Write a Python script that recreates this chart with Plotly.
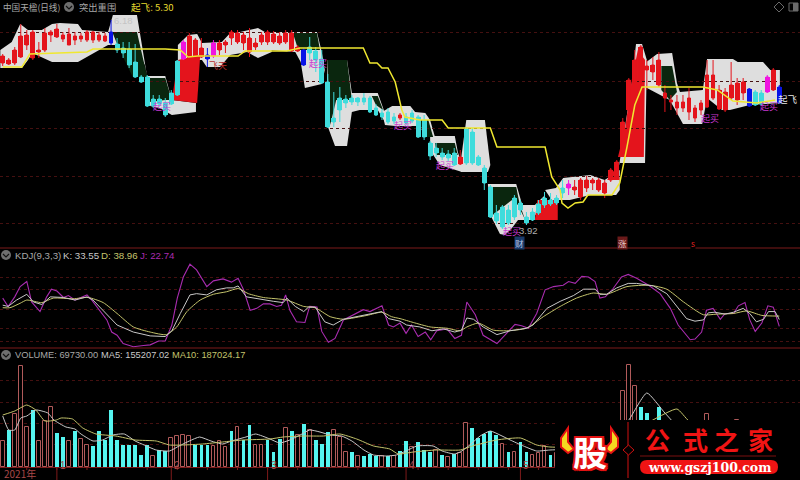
import plotly.graph_objects as go

# ---- price panel (bars numbered 0..129) ----
OPEN = [5.67,5.66,5.67,5.73,5.85,5.72,5.78,5.80,5.95,5.93,5.91,5.85,5.90,5.91,5.90,5.90,5.90,5.89,5.87,5.86,
        5.82,5.81,5.68,5.53,5.53,5.31,5.31,5.27,5.37,5.69,5.71,5.72,5.73,5.73,5.71,5.74,5.80,5.85,5.92,5.88,
        5.87,5.78,5.83,5.88,5.88,5.88,5.87,5.88,5.79,5.79,5.65,5.83,5.79,5.71,5.48,5.12,5.32,5.31,5.32,5.32,
        5.32,5.32,5.22,5.17,5.18,5.13,5.12,5.13,5.17,5.13,5.10,4.87,4.82,4.77,4.76,4.77,4.66,5.01,4.98,4.73,
        4.62,4.43,4.17,4.23,4.20,4.32,4.27,4.13,4.18,4.26,4.32,4.30,4.32,4.42,4.42,4.40,4.33,4.42,4.47,4.40,
        4.37,4.50,4.53,4.77,5.20,5.47,5.50,5.60,5.58,5.45,5.32,5.28,5.22,5.22,5.18,5.12,5.20,5.23,5.32,5.21,
        5.20,5.32,5.30,5.37,5.24,5.38,5.37,5.38,5.40,5.27]
HIGH = [5.76,5.72,5.83,6.06,6.00,6.00,5.88,6.02,6.00,6.06,5.98,6.02,5.98,5.97,6.00,5.99,5.98,5.97,6.10,5.92,
        5.88,5.88,5.86,5.55,5.55,5.35,5.35,5.32,5.40,5.70,5.90,5.97,5.92,5.92,5.82,5.90,5.90,5.90,6.00,6.00,
        5.98,6.02,5.92,5.98,6.00,5.99,5.98,6.00,6.00,5.85,5.82,5.93,5.83,5.80,5.56,5.38,5.43,5.35,5.35,5.33,
        5.37,5.34,5.26,5.21,5.22,5.17,5.17,5.17,5.20,5.15,5.15,4.89,4.87,4.82,4.80,4.82,4.80,5.03,5.02,4.75,
        4.65,4.45,4.25,4.25,4.25,4.35,4.30,4.18,4.22,4.30,4.38,4.37,4.35,4.50,4.50,4.50,4.52,4.54,4.52,4.52,
        4.50,4.62,4.70,5.12,5.52,5.80,5.85,5.70,5.73,5.78,5.45,5.35,5.35,5.35,5.42,5.25,5.30,5.70,5.70,5.45,
        5.42,5.68,5.52,5.52,5.42,5.40,5.40,5.55,5.62,5.45]
LOW = [5.64,5.65,5.65,5.72,5.80,5.70,5.72,5.78,5.88,5.92,5.88,5.85,5.85,5.88,5.88,5.87,5.88,5.88,5.85,5.77,
       5.72,5.62,5.52,5.47,5.23,5.22,5.23,5.13,5.25,5.34,5.70,5.70,5.70,5.72,5.63,5.72,5.75,5.77,5.85,5.86,
       5.80,5.73,5.80,5.85,5.85,5.86,5.85,5.86,5.78,5.78,5.64,5.70,5.58,5.46,5.02,5.03,5.08,5.22,5.25,5.24,
       5.25,5.17,5.14,5.10,5.06,5.06,5.10,5.05,5.07,4.92,4.90,4.70,4.73,4.70,4.69,4.64,4.65,4.65,4.65,4.64,
       4.40,4.12,4.06,4.01,4.05,4.10,4.15,4.05,4.09,4.15,4.22,4.24,4.25,4.32,4.35,4.35,4.30,4.38,4.40,4.38,
       4.32,4.48,4.52,4.75,5.18,5.45,5.40,5.40,5.50,5.43,5.18,5.20,5.15,5.18,5.10,5.08,5.15,5.22,5.30,5.20,
       5.18,5.30,5.25,5.30,5.23,5.24,5.24,5.37,5.39,5.26]
CLOSE = [5.74,5.70,5.80,5.94,5.95,5.98,5.80,5.97,5.98,6.01,5.95,5.96,5.94,5.94,5.98,5.98,5.95,5.94,5.98,5.80,
         5.77,5.65,5.53,5.48,5.24,5.24,5.26,5.15,5.26,5.35,5.88,5.94,5.90,5.82,5.75,5.87,5.87,5.88,5.98,5.97,
         5.95,5.92,5.87,5.95,5.98,5.96,5.94,5.97,5.97,5.83,5.80,5.77,5.70,5.47,5.03,5.08,5.20,5.27,5.28,5.28,
         5.28,5.18,5.15,5.13,5.08,5.09,5.15,5.07,5.09,4.93,4.93,4.74,4.77,4.73,4.72,4.65,4.73,4.67,4.67,4.65,
         4.47,4.13,4.09,4.03,4.07,4.13,4.20,4.07,4.10,4.17,4.25,4.26,4.27,4.37,4.46,4.43,4.50,4.50,4.50,4.50,
         4.47,4.60,4.68,5.08,5.50,5.70,5.83,5.64,5.65,5.70,5.37,5.30,5.28,5.28,5.32,5.22,5.27,5.55,5.55,5.40,
         5.38,5.45,5.47,5.48,5.41,5.25,5.26,5.53,5.60,5.43]
BLUE_BARS = [18, 34, 50, 124, 129]
MAGENTA_BARS = [30, 35, 94, 127]

YELLOW_X = [0,3.2,4.5,14,15,27,29.5,30.8,32.4,39.1,40.3,47.2,49.4,59.9,61,62.2,63,64,65.2,66.3,66.8,69.3,73,74,81,
            82.1,90.1,91.2,92.6,92.9,93.9,95.1,96.4,97.2,101.2,102.5,103.7,105,106.2,116.3,118.7,121.3,125.3,128.3]
YELLOW_Y = [5.63,5.63,5.76,5.78,5.81,5.81,5.80,5.73,5.74,5.74,5.79,5.79,5.82,5.82,5.67,5.67,5.62,5.62,5.48,5.20,5.13,5.10,5.10,5.02,5.02,
            4.83,4.83,4.53,4.40,4.27,4.22,4.27,4.28,4.35,4.35,4.47,4.83,5.25,5.43,5.43,5.40,5.29,5.27,5.30]

GRAY_X = [-0.4,1.5,2.9,4.2,6.5,8.2,9.5,12.5,13.2,17.5,18.3,22.3,24,23.6,22,17.5,12.5,8.2,4.9,4.2,3.2,-0.4,None,
          23.8,27,28.1,32.1,32.1,28.1,26.1,24.5,None,
          29.1,30.8,32.3,33.1,36.4,37.8,39.4,42.4,44.4,44.7,42.4,40.6,37.8,36.1,33.9,33.1,29.1,None,
          44.1,44.7,52.2,53,53.5,53,50.2,49.5,48.6,44.4,None,
          53.9,57.2,58,62.3,63.3,63.7,62.3,59.3,58,57.2,55.2,53.9,None,
          63,64.7,67.7,68.5,70.2,71,71.8,70.2,69.3,65.2,63.5,None,
          71,75.1,75.6,76.3,79.3,76.3,72.6,71,None,
          76,77,80.1,81,80.6,76.1,None,
          80.6,85.3,86.3,88.4,90.1,89.2,87.8,85.6,84.6,83.4,82.6,81,None,
          90.1,91.9,93.1,97.6,100,102.5,102.5,101.9,97.6,94.2,92.2,91.2,None,
          102.4,104.5,105.2,106.2,107,106.7,102.2,None,
          106.7,108.7,111.2,112,112.5,116.3,117,121.3,122.1,126.3,127.5,129.1,129.1,124.1,120.8,119.5,117,116.2,113,110.8,106.7]
GRAY_Y = [5.80,5.88,6.06,6.00,6.00,6.06,6.07,6.06,6.00,5.98,6.15,6.15,5.53,5.65,5.85,5.85,5.68,5.68,5.77,5.70,5.62,5.62,None,
          5.54,5.54,5.30,5.27,5.18,5.15,5.22,5.24,None,
          5.85,5.95,5.96,5.87,5.88,5.97,5.98,6.02,5.95,5.78,5.72,5.78,5.75,5.63,5.63,5.70,5.70,None,
          5.96,5.98,5.98,5.78,5.60,5.46,5.42,5.68,5.78,5.80,None,
          5.70,5.70,5.37,5.37,5.20,5.06,5.20,5.20,5.18,4.84,4.84,5.05,None,
          5.18,5.24,5.24,5.18,5.17,5.10,4.93,4.93,5.04,5.04,5.05,None,
          4.94,4.94,4.78,4.65,4.58,4.58,4.65,4.80,None,
          4.65,5.10,5.10,4.65,4.58,4.58,None,
          4.46,4.46,4.25,4.25,4.35,4.20,4.10,4.10,4.02,3.95,3.96,4.15,None,
          4.40,4.42,4.52,4.55,4.50,4.60,4.40,4.35,4.35,4.30,4.30,4.30,None,
          4.65,5.47,5.86,5.86,5.70,4.67,4.67,None,
          5.67,5.76,5.77,5.47,5.38,5.40,5.71,5.71,5.68,5.68,5.60,5.60,5.27,5.25,5.20,5.20,5.32,5.06,5.06,5.30,5.43]

DARK_X = [18.2,22.3,24,21.6,19.2,None, 24.1,27,28.1,27,24.5,None, 48.2,52.2,52.7,49.1,None,
          53.9,57.2,58,55.4,54.4,None, 61.3,62.3,63.2,62,None, 69,70.7,71.5,70.2,None,
          71.8,75.1,75.6,72.1,None, 81,85.3,85.9,86.8,85.6,84.6,81.4,None, 109.4,111.2,112,110.8,109.4]
DARK_Y = [5.98,5.98,5.53,5.53,5.83,None, 5.52,5.52,5.30,5.30,5.28,None, 5.97,5.97,5.80,5.80,None,
          5.70,5.70,5.30,5.30,5.05,None, 5.34,5.34,5.20,5.25,None, 5.10,5.10,4.93,4.93,None,
          4.87,4.87,4.75,4.75,None, 4.43,4.43,4.25,4.10,4.25,4.30,4.15,None, 5.64,5.64,5.38,5.30,5.40]

RED_X = [28.1,29.1,32.8,32.3,None, 88.8,92.2,92.2,88.4,None, 100.4,102.2,102.5,None,
         102.2,103.4,104.5,105.5,106.7,106.5]
RED_Y = [5.30,5.70,5.75,5.27,None, 4.30,4.30,4.10,4.10,None, 4.50,4.65,4.50,None,
         4.73,5.02,5.50,5.80,5.70,4.73]

# ---- KDJ panel ----
J_X = [0,0.9,2,2.9,4,4.8,6.2,7.3,8.1,9,10.1,10.9,12,13.1,14,14.8,16.2,17.3,18.1,19,20,21.7,23.4,24.5,25.9,27,28.1,29,30,31.1,
       32.2,33.9,35,36.6,38,39.1,40,41.1,42.2,43.3,44.4,45.5,46.3,47,47.7,48.8,50.2,51,52.2,53,54.1,55.2,56.6,58.2,59.9,61,63,64.1,64.9,66,
       67,67.9,69,70.2,71.1,72.1,73.8,75.1,76.2,77.1,78.5,79.8,82.1,83.7,85.1,86.2,87.3,88.7,90.1,91.5,93.1,94,95.1,96.2,97.3,98.4,99.2,100.1,
       101.4,102.8,103.9,105.3,107.3,109.2,110.9,112.2,114.2,115,116.1,116.9,118,119.2,120,121.4,122.2,123.3,124.1,125,126.1,127.1,128,129]
J_V = [67,54,69,85,93,61,46,69,81,78,68,71,64,68,72,64,46,33,14,9,-4,-9,-7,-6,0,0,25,67,100,120,
       111,85,94,97,92,98,80,48,51,58,58,54,56,72,48,30,29,54,53,15,-2,4,33,41,49,46,55,25,22,28,
       12,25,7,14,2,16,19,4,9,61,41,9,-4,12,26,24,20,43,80,85,87,93,90,101,100,93,67,69,
       82,100,104,98,87,74,51,25,2,3,14,48,51,34,43,43,55,60,33,15,28,55,53,22.74]
K_X = [0,0.9,2.3,4,5.1,6.5,7.9,10.1,12,14,15,17.3,19,21.7,24.5,27,28.1,29.5,31.1,32.2,33.9,35.5,37.2,38.3,39.1,40.5,42.2,45,46.6,47.2,
       48.6,50,50.8,51.9,53.5,54.9,56.6,59.9,63,64.1,66,67.1,69.3,71.3,73.2,75.1,76.2,77.1,78.2,79.8,82.1,84.3,87,88.1,90.4,92.6,94.8,96.5,98.4,99.2,
       100.3,102,103.9,105.3,108.1,110.3,112,113.6,115,116.4,117.2,118.3,120,121.4,123,124.1,125.2,126.4,127.2,128.3,129]
K_V = [56,54,64,73,61,57,69,68,64,69,64,41,25,14,8,7,16,43,72,74,72,80,83,83,86,69,66,62,60,67,
       54,46,53,53,30,25,34,40,46,35,31,25,22,16,19,14,17,36,34,22,10,16,20,25,51,62,71,81,81,73,
       73,83,90,90,86,74,54,35,31,33,44,45,42,45,51,43,30,34,46,46,33.55]
D_X = [0,1.2,2.9,4,6.5,8.4,11.7,14.2,16.7,19,21.7,24.5,27.2,28.9,30.6,32.8,35,37.2,39.1,40.8,43.3,47.2,50,51.9,54.4,56.6,60.5,63,64.6,66,
       68.2,71,73.8,76,77.1,79,81.5,83.7,87,89.8,92.6,95.3,98.1,100.3,103.7,107.5,110.3,113.1,116.4,118.6,121.4,123.6,126.1,129]
D_V = [52,52,59,64,60,67,66,68,60,43,22,14,10,22,46,64,73,77,82,74,68,64,54,52,38,34,40,45,38,35,
       29,22,20,16,22,28,17,16,20,38,54,67,75,73,85,87,81,61,41,42,43,47,40,38.96]

# ---- volume panel, in units of 10 000 ----
VOLUME = [26,37,53,101,40,57,26,46,60,34,30,26,36,28,22,21,36,27,57,27,22,22,22,12,22,11,17,16,29,31,
          32,31,22,22,22,21,26,20,36,40,27,42,22,22,27,15,28,39,36,32,43,37,27,23,35,37,30,15,15,11,
          11,13,11,11,11,11,16,26,20,25,17,15,17,12,10,13,14,44,39,29,33,36,32,23,15,15,25,15,12,14,
          21,12,14,16,12,18,22,14,16,12,15,20,30,76,102,81,60,54,40,60,38,30,22,18,20,15,16,53,25,20,
          18,22,47,24,20,14,16,22,18,6.97]
VOLUME_SIDE = list("rcrrrcrrrccrcrrccccccccccrccrrrrcccrrrcrccrrcccrcrcrcccrrrcrcccrcrccrcccrcrcrrccccc"
                   "rcrccrrrc" "rrrrrrrrrrr" "rrrcccc" "rrrrrrrrrrrrrrrrrrrrr")[:130]
MA5_X = [0,1,2,3,4,5.5,7.5,8.5,10.5,12,13,15,16.6,18.3,20.2,22,23.5,25.5,27.7,29.3,31,32.7,34.6,36.5,38,40.4,42,44.4,46,47.7,
         49.4,51,52.7,54.4,56.3,58,60,61.6,63.8,65.4,67,68.8,71.5,73,75,76,77.6,79.3,81,82.6,84.3,86.5,88.7,90.9,96,100,104,107,110,114,120,129]
MA5_V = [51,37,37,49,51,57,54,47,40,38,33,26,27,32,33,26,22,17,16,21,26,30,26,23,26,30,33,28,24,27,
         32,37,35,32,31,26,17,12,11,12,16,21,21,16,13,15,22,31,36,32,27,21,16,17,18,20,47,74,54,30,30,15.52]
MA10_X = [0,2,4,5.5,7,8.9,9.7,11.6,13.3,15.5,18.8,22,25.5,27.7,29.9,33.2,36.5,39.9,44.4,46.6,50,53.3,56,58.8,61.6,64.3,65.7,68.2,72,76,
          78,82,86,88.7,90.9,96,102,108,112,114,120,129]
MA10_V = [52,56,62,57,46,47,49,48,39,33,31,27,26,22,22,23,25,27,28,30,31,31,33,28,21,18,13,15,17,17,
          21,27,29,22,20,20,26,47,58,46,30,18.7]

MONTH_BARS = [9, 28, 44, 67, 86]
MONTH_LABELS = ["1", "2", "3", "4", "5"]
SIGNALS = [("起买", 26.5, 5.24), ("飞天", 35.7, 5.65), ("起买", 52.4, 5.67), ("起买", 66.5, 5.05),
           ("起买", 73.5, 4.65), ("起买", 84.6, 3.99), ("起买", 117.5, 5.12), ("起买", 127.3, 5.24)]

W, H = 800, 480
CJK = "Noto Sans CJK SC"
LAT = "Liberation Sans, Noto Sans CJK SC"
SEP = "#7d1a1a"
GRID = "#451010"
RED = "#e4141c"
CYAN = "#3fdcdc"
BLUE = "#0a14e6"
MAGENTA = "#f014e0"
GREY = "#dedede"

def fx(p): return p / W
def fy(p): return 1 - p / H

shapes = []

def polygons(xs, ys, color):
    """Area pieces go in as shapes on the data axes, so they stay beneath the candles."""
    piece = []
    for x, y in list(zip(xs, ys)) + [(None, None)]:
        if x is None:
            if piece:
                d = "M" + " L".join(f"{a},{b}" for a, b in piece) + " Z"
                shapes.append(dict(type="path", xref="x", yref="y", path=d, fillcolor=color,
                                   line=dict(width=0), layer="below"))
            piece = []
        else:
            piece.append((x, y))

polygons(GRAY_X, GRAY_Y, GREY)
polygons(DARK_X, DARK_Y, "#0a260e")
polygons(RED_X, RED_Y, RED)

fig = go.Figure()
special = set(BLUE_BARS) | set(MAGENTA_BARS)
plain = [i for i in range(len(OPEN)) if i not in special]

def candle(ids, up, down):
    return go.Candlestick(
        x=ids, open=[OPEN[i] for i in ids], high=[HIGH[i] for i in ids],
        low=[LOW[i] for i in ids], close=[CLOSE[i] for i in ids],
        increasing=dict(line=dict(color=up, width=1), fillcolor=up),
        decreasing=dict(line=dict(color=down, width=1), fillcolor=down),
        showlegend=False, hoverinfo="skip")

def body_color(i):
    if i in BLUE_BARS:
        return BLUE
    if i in MAGENTA_BARS:
        return MAGENTA
    return RED if CLOSE[i] >= OPEN[i] else CYAN

# wider bodies, which the candlestick trace cannot size by itself
all_bars = list(range(len(OPEN)))
fig.add_trace(go.Bar(x=all_bars, base=[min(OPEN[i], CLOSE[i]) for i in all_bars],
                     y=[abs(CLOSE[i] - OPEN[i]) for i in all_bars], width=0.8,
                     marker=dict(color=[body_color(i) for i in all_bars], line=dict(width=0)),
                     showlegend=False, hoverinfo="skip"))
fig.add_trace(candle(plain, RED, CYAN))
fig.add_trace(candle(BLUE_BARS, BLUE, BLUE))
fig.add_trace(candle(MAGENTA_BARS, MAGENTA, MAGENTA))
fig.add_trace(go.Scatter(x=YELLOW_X, y=YELLOW_Y, mode="lines", line=dict(color="#f0e830", width=1.5),
                         showlegend=False, hoverinfo="skip"))

kl = dict(mode="lines", yaxis="y2", showlegend=False, hoverinfo="skip")
fig.add_trace(go.Scatter(x=J_X, y=J_V, line=dict(color="#a92cb0", width=1.1), **kl))
fig.add_trace(go.Scatter(x=D_X, y=D_V, line=dict(color="#c4c46c", width=1, shape="spline", smoothing=0.6), **kl))
fig.add_trace(go.Scatter(x=K_X, y=K_V, line=dict(color="#c8c8c8", width=1), **kl))

up_ids = [i for i in range(len(VOLUME)) if VOLUME_SIDE[i] == "r"]
dn_ids = [i for i in range(len(VOLUME)) if VOLUME_SIDE[i] == "c"]
fig.add_trace(go.Bar(x=up_ids, y=[VOLUME[i] for i in up_ids], yaxis="y3", width=0.62,
                     marker=dict(color="#000000", line=dict(color="#b05a5a", width=1)),
                     showlegend=False, hoverinfo="skip"))
fig.add_trace(go.Bar(x=dn_ids, y=[VOLUME[i] for i in dn_ids], yaxis="y3", width=0.62,
                     marker=dict(color="#55f5f0", line=dict(width=0)),
                     showlegend=False, hoverinfo="skip"))
vl = dict(mode="lines", yaxis="y3", showlegend=False, hoverinfo="skip")
fig.add_trace(go.Scatter(x=MA5_X, y=MA5_V, line=dict(color="#c8c8c8", width=1, shape="spline", smoothing=0.5), **vl))
fig.add_trace(go.Scatter(x=MA10_X, y=MA10_V, line=dict(color="#c4c46c", width=1, shape="spline", smoothing=0.5), **vl))

def hline(y, col=SEP, x0=0, x1=W, w=1, layer="above"):
    shapes.append(dict(type="line", xref="paper", yref="paper", x0=fx(x0), x1=fx(x1), y0=fy(y), y1=fy(y),
                       line=dict(color=col, width=w), layer=layer))
hline(248); hline(348); hline(467.5, x1=W)

for b in MONTH_BARS:
    shapes.append(dict(type="line", xref="x", yref="paper", x0=b, x1=b, y0=fy(467), y1=fy(480),
                       line=dict(color=SEP, width=1)))
for b in range(4, 92, 5):
    shapes.append(dict(type="line", xref="x", yref="paper", x0=b, x1=b, y0=fy(467), y1=fy(470),
                       line=dict(color=SEP, width=1)))

# round icons of the pane headers
for cx, cy in ((69, 7), (6, 255), (6, 355)):
    shapes.append(dict(type="circle", xref="paper", yref="paper", x0=fx(cx-5), x1=fx(cx+5), y0=fy(cy-5), y1=fy(cy+5),
                       fillcolor="#6e6e6e", line=dict(width=0)))
    shapes.append(dict(type="path", xref="paper", yref="paper",
                       path=f"M{fx(cx-3)},{fy(cy-1)} L{fx(cx)},{fy(cy+2)} L{fx(cx+3)},{fy(cy-1)}",
                       line=dict(color="#111111", width=1.2)))
# top right diamond and square
shapes.append(dict(type="path", xref="paper", yref="paper",
                   path=f"M{fx(779)},{fy(2)} L{fx(784)},{fy(7)} L{fx(779)},{fy(12)} L{fx(774)},{fy(7)} Z",
                   line=dict(color="#6a6a6a", width=1)))
shapes.append(dict(type="rect", xref="paper", yref="paper", x0=fx(789), x1=fx(798), y0=fy(3), y1=fy(11),
                   line=dict(color="#6a6a6a", width=1), fillcolor="#000000"))
shapes.append(dict(type="rect", xref="paper", yref="paper", x0=fx(793), x1=fx(798), y0=fy(3), y1=fy(11),
                   line=dict(width=0), fillcolor="#6a6a6a"))

# watermark plate
shapes.append(dict(type="rect", xref="paper", yref="paper", x0=fx(555), x1=fx(800), y0=fy(420), y1=fy(480),
                   fillcolor="#000000", line=dict(width=0), layer="above"))
def horn(pts):
    d = "M" + " L".join(f"{fx(x)},{fy(y)}" for x, y in pts) + " Z"
    shapes.append(dict(type="path", xref="paper", yref="paper", path=d, fillcolor="#f5d820",
                       line=dict(color="#e41212", width=2), layer="above"))
horn([(568, 428), (561, 438), (561, 447), (568, 453), (574, 449), (568, 442)])
horn([(611, 428), (618, 438), (618, 447), (611, 453), (605, 449), (611, 442)])
shapes.append(dict(type="line", xref="paper", yref="paper", x0=fx(628), x1=fx(628), y0=fy(422), y1=fy(478),
                   line=dict(color="#d01010", width=1), layer="above"))
shapes.append(dict(type="path", xref="paper", yref="paper",
                   path=f"M{fx(628.5)},{fy(445)} L{fx(634)},{fy(450)} L{fx(628.5)},{fy(455)} L{fx(623)},{fy(450)} Z",
                   fillcolor="#000000", line=dict(color="#d01010", width=1), layer="above"))
hline(456, col="#7a1010", x0=640, x1=776)
px0, px1, t, b = 640, 778, 460, 474
shapes.append(dict(type="path", xref="paper", yref="paper", layer="above", fillcolor="#f01414", line=dict(width=0),
                   path=(f"M{fx(px0+7)},{fy(t)} L{fx(px1-7)},{fy(t)} Q{fx(px1)},{fy(t)} {fx(px1)},{fy((t+b)/2)} "
                         f"Q{fx(px1)},{fy(b)} {fx(px1-7)},{fy(b)} L{fx(px0+7)},{fy(b)} "
                         f"Q{fx(px0)},{fy(b)} {fx(px0)},{fy((t+b)/2)} Q{fx(px0)},{fy(t)} {fx(px0+7)},{fy(t)} Z")))

ann = []
def label(x, y, text, color, size=11, anchor="left", family=LAT, **kw):
    ann.append(dict(x=fx(x), y=fy(y), xref="paper", yref="paper", text=text, showarrow=False, xanchor=anchor,
                    yanchor="middle", font=dict(color=color, size=size, family=family, **kw),
                    borderpad=0, align="left"))
GT = "#a8a8a8"
label(2, 7, "中国天楹(日线)", GT, 8.6, family=CJK)
label(78, 7, "突出重围", GT, 9.3, family=CJK)
label(130, 7, "起飞: 5.30", "#e6d82e", 9.6, family=CJK)
label(14, 255, "KDJ(9,3,3)", GT, 9.7)
label(62, 255, "K: 33.55", "#c8c8c8", 9.7)
label(100, 255, "D: 38.96", "#c4c46c", 9.7)
label(139, 255, "J: 22.74", "#a92cb0", 9.7)
label(14, 355, "VOLUME: 69730.00", GT, 9.3)
label(100, 355, "MA5: 155207.02", "#c8c8c8", 9.3)
label(171, 355, "MA10: 187024.17", "#c4c46c", 9.3)
label(3, 473, "2021年", "#a84848", 10, family=CJK)
for b_, t_ in zip(MONTH_BARS, MONTH_LABELS):
    ann.append(dict(x=b_, y=fy(473), xref="x", yref="paper", text=t_, showarrow=False, xanchor="left", xshift=1,
                    font=dict(color="#a84848", size=10, family=LAT)))

for text, i, p in SIGNALS:
    c = "#b83030" if text == "飞天" else "#c838d0"
    ann.append(dict(x=i, y=p, xref="x", yref="y", text=text, showarrow=False,
                    font=dict(color=c, size=9, family=CJK)))
ann.append(dict(x=87.4, y=3.995, xref="x", yref="y", text="3.92", showarrow=False,
                font=dict(color="#b0b0b0", size=9.5, family=LAT)))
ann.append(dict(x=20, y=6.10, xref="x", yref="y", text="6.18", showarrow=False,
                font=dict(color="#c4c4c4", size=9.5, family=LAT)))
ann.append(dict(x=130.5, y=5.31, xref="x", yref="y", text="起飞", showarrow=False,
                font=dict(color="#e8e8e8", size=9.5, family=CJK)))
for i, text, fg, bg in ((85.8, "财", "#b8c8e8", "#1a3a6a"), (103, "涨", "#e8c8c8", "#6a1a1a"), (114.7, "s", "#e82020", "#000000")):
    ann.append(dict(x=i, y=3.875, xref="x", yref="y", text=text, showarrow=False, bgcolor=bg, borderpad=0,
                    font=dict(color=fg, size=8.5, family=CJK)))

# watermark text
shadow = "2px 0 0 #e41212,-2px 0 0 #e41212,0 2px 0 #e41212,0 -2px 0 #e41212,2px 2px 0 #e41212,-2px -2px 0 #e41212,2px -2px 0 #e41212,-2px 2px 0 #e41212"
label(590, 451, "股", "#ffffff", 34, anchor="center", family=CJK, weight="bold", shadow=shadow)
for cx, ch in ((657, "公"), (695, "式"), (726, "之"), (760, "家")):
    label(cx, 439, ch, "#f01414", 25, anchor="center", family="Noto Sans CJK SC", weight="bold")
label(709, 467, "www.gszj100.com", "#ffffff", 12.5, anchor="center", family="DejaVu Serif, Liberation Serif", weight="bold")

fig.update_layout(
    width=W, height=H, margin=dict(l=0, r=0, t=0, b=0), paper_bgcolor="#000000", plot_bgcolor="#000000",
    barmode="overlay", bargap=0, showlegend=False, shapes=shapes, annotations=ann,
    xaxis=dict(range=[-0.45, 132.44], visible=False, rangeslider=dict(visible=False), anchor="y3", fixedrange=True),
    yaxis=dict(domain=[fy(248), 1], range=[3.82, 6.30], showticklabels=False, ticks="", zeroline=False,
               tickvals=[5.98, 5.49, 5.02, 4.54, 4.07], gridcolor=GRID, griddash="dot", gridwidth=1, anchor="x"),
    yaxis2=dict(domain=[fy(348), fy(248)], range=[-10.9, 145.3], showticklabels=False, ticks="", zeroline=False,
                tickvals=[0, 20, 50, 80, 100], gridcolor=GRID, griddash="dot", gridwidth=1, anchor="x"),
    yaxis3=dict(domain=[0, fy(349)], range=[-13, 118], showticklabels=False, ticks="", zeroline=False,
                tickvals=[23, 44, 65, 87], gridcolor=GRID, griddash="dot", gridwidth=1, anchor="x"),
)
fig.write_html("out.html", config={"displayModeBar": False},
               post_script="document.body.style.margin='0';document.body.style.background='#000';")
